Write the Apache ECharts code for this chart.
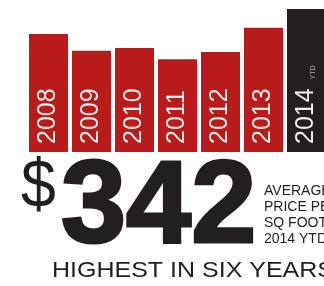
<!DOCTYPE html>
<html>
<head>
<meta charset="utf-8">
<script src="https://cdn.jsdelivr.net/npm/echarts@6/dist/echarts.min.js"></script>
<style>
  html, body { margin: 0; padding: 0; background: #fff; overflow: hidden; }
  /* a bit wider than the window: the last bar is cut by the page edge */
  #chart { width: 330px; height: 286px; }
</style>
</head>
<body>
<div id="chart"></div>
<script>
// price per sq foot (2014 is YTD)
const years = ['2008', '2009', '2010', '2011', '2012', '2013', '2014']
const prices = [282, 242, 249, 222, 239, 297, 342]
const ytdYear = '2014'
const bigValue = '342'
const sideLines = ['AVERAGE', 'PRICE PER', 'SQ FOOT', '2014 YTD']
const headline = 'HIGHEST IN SIX YEARS'

const red = '#b91a1a'
const dark = '#231f20'
const font = '"Liberation Sans", Arial, sans-serif'

const chart = echarts.init(document.getElementById('chart'), null, {renderer: 'canvas'})

const option = {
  animation: false,
  backgroundColor: '#fff',
  grid: {left: 27, right: 2, top: 9, bottom: 134},
  xAxis: {
    type: 'category',
    data: years,
    show: false
  },
  yAxis: {
    type: 'value',
    min: 0,
    max: 342,
    show: false
  },
  series: [{
    type: 'bar',
    barWidth: 39,
    data: prices.map((v, i) => ({
      value: v,
      itemStyle: {color: years[i] === ytdYear ? dark : red}
    })),
    label: {
      show: true,
      position: 'insideBottom',
      rotate: 90,
      align: 'left',
      verticalAlign: 'middle',
      distance: 8,
      color: '#f4ecec',
      fontFamily: font,
      fontSize: 25,
      formatter: (p) => p.name === ytdYear ? p.name + '{ytd|YTD}' : p.name,
      rich: {
        ytd: {
          fontSize: 7,
          fontFamily: font,
          color: '#a8a8a8',
          verticalAlign: 'bottom',
          padding: [0, 0, 2, 9]
        }
      }
    }
  }],
  graphic: [
    {
      type: 'text', x: 21, y: 188, scaleX: 0.92,
      style: {text: '$', fill: dark, fontFamily: font, fontSize: 68, verticalAlign: 'middle'}
    },
    {
      type: 'text', x: 61, y: 210,
      style: {
        text: bigValue, fill: dark, fontFamily: font, fontWeight: 'bold', fontSize: 117,
        verticalAlign: 'middle', stroke: dark, lineWidth: 3
      }
    },
    {
      type: 'text', x: 264, y: 183,
      style: {text: sideLines.join('\n'), fill: dark, fontFamily: font, fontSize: 14, lineHeight: 16, verticalAlign: 'top'}
    },
    {
      type: 'text', x: 52, y: 271, scaleY: 0.86,
      style: {text: headline, fill: dark, fontFamily: font, fontSize: 25, verticalAlign: 'middle'}
    }
  ]
}

chart.setOption(option)
</script>
</body>
</html>
